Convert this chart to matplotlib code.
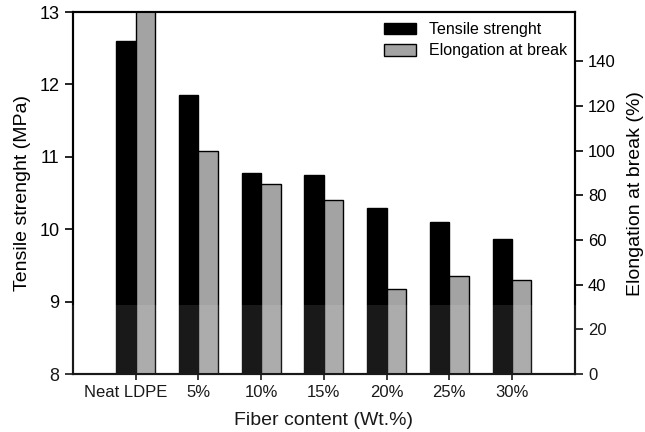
import matplotlib.pyplot as plt
import numpy as np
from matplotlib.patches import Rectangle
from matplotlib.transforms import ScaledTranslation

plt.rcParams['font.family'] = ['Liberation Sans', 'DejaVu Sans']

categories = ['Neat LDPE', '5%', '10%', '15%', '20%', '25%', '30%']
tensile = [12.6, 11.85, 10.78, 10.75, 10.3, 10.1, 9.87]
elongation = [170, 100, 85, 78, 38, 44, 42]

x = np.arange(len(categories))
w = 0.31

fig = plt.figure(figsize=(6.45, 4.32), dpi=100)
ax = fig.add_axes([0.113, 0.134, 0.778, 0.838])
ax2 = ax.twinx()

b1 = ax.bar(x, tensile, width=-w, align='edge', color='black',
            edgecolor='black', linewidth=1)
b2 = ax2.bar(x, elongation, width=w, align='edge', color='#a3a3a3',
             edgecolor='black', linewidth=1)

ax.set_xlim(-1, 7)
ax.set_ylim(8, 13)
ax.set_yticks([8, 9, 10, 11, 12, 13])
ax2.set_ylim(0, 162)
ax2.set_yticks([0, 20, 40, 60, 80, 100, 120, 140])
ax.set_xticks(x)
ax.set_xticklabels(categories)

ax.tick_params(axis='x', labelsize=12, length=4, width=1.2)
ax.tick_params(axis='y', labelsize=13, length=6, width=1.2)
ax2.tick_params(axis='y', labelsize=12, length=6, width=1.2)

# first label sits a bit left of its tick
lab0 = ax.get_xticklabels()[0]
lab0.set_transform(lab0.get_transform() + ScaledTranslation(-0.1, 0, fig.dpi_scale_trans))

for a in (ax, ax2):
    for s in a.spines.values():
        s.set_linewidth(1.5)

ax.set_ylabel('Tensile strenght (MPa)', fontsize=14, labelpad=6)
ax2.set_ylabel('Elongation at break (%)', fontsize=14, labelpad=8)
ax.set_xlabel('Fiber content (Wt.%)', fontsize=14, labelpad=9)

ax2.legend([b1, b2], ['Tensile strenght', 'Elongation at break'],
           loc='upper right', frameon=False, fontsize=11.5,
           handlelength=2.0, handleheight=0.75, borderaxespad=0.0,
           labelspacing=0.4, bbox_to_anchor=(0.998, 0.99))

# faded band across the lower part of the picture
fig.patches.append(Rectangle((0, 0), 1, 0.294, transform=fig.transFigure,
                             facecolor='white', alpha=0.1, zorder=10))

fig.savefig('out.png', dpi=100)
